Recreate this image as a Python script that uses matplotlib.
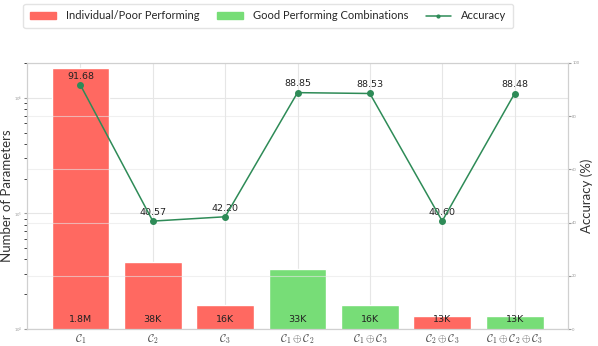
# Parameters vs accuracy chart
import matplotlib
matplotlib.use('Agg')
import matplotlib.pyplot as plt
import seaborn as sns
from matplotlib.patches import Patch
from matplotlib.lines import Line2D

sns.set_style('whitegrid')
plt.rcParams['font.family'] = ['Lato', 'DejaVu Sans']
plt.rcParams['mathtext.fontset'] = 'cm'

# data
categories = [r'$\mathcal{C}_1$', r'$\mathcal{C}_2$', r'$\mathcal{C}_3$',
              r'$\mathcal{C}_1 \oplus \mathcal{C}_2$', r'$\mathcal{C}_1 \oplus \mathcal{C}_3$',
              r'$\mathcal{C}_2 \oplus \mathcal{C}_3$',
              r'$\mathcal{C}_1 \oplus \mathcal{C}_2 \oplus \mathcal{C}_3$']
params = [1.8e6, 38e3, 16e3, 33e3, 16e3, 13e3, 13e3]
param_labels = ['1.8M', '38K', '16K', '33K', '16K', '13K', '13K']
good = [False, False, False, True, True, False, True]
accuracy = [91.68, 40.57, 42.20, 88.85, 88.53, 40.60, 88.48]

red = '#ff6961'
green = '#77dd77'
line_col = '#2e8b57'

fig = plt.figure(figsize=(5.98, 3.46), dpi=100)
ax1 = fig.add_axes([0.045, 0.049, 0.905, 0.769])
x = list(range(len(categories)))
colors = [green if g else red for g in good]
ax1.bar(x, params, width=0.8, color=colors, zorder=2)
ax1.set_yscale('log')
ax1.set_ylim(1e4, 2e6)
ax1.set_xticks(x)
ax1.set_xticklabels(categories, fontsize=7.8, color='#444444')
ax1.tick_params(axis='y', labelsize=3, length=2, pad=1, left=True, colors='#999999')
ax1.tick_params(axis='x', length=0, pad=2)
ax1.set_ylabel('Number of Parameters', fontsize=9.5, color='#333333')
ax1.yaxis.set_label_coords(-0.026, 0.5)
ax1.grid(True, which='major', color='#e6e6e6', linewidth=0.8)
for xi, lab in zip(x, param_labels):
    ax1.text(xi, 1.1e4, lab, ha='center', va='bottom', fontsize=6.8,
             family='DejaVu Sans', color='#222222', zorder=5)
for s in ax1.spines.values():
    s.set_color('#d0d0d0')

ax2 = ax1.twinx()
ax2.plot(x, accuracy, color=line_col, marker='o', markersize=4, linewidth=1.1, zorder=4)
ax2.set_ylim(0, 100)
ax2.set_yticks([0, 20, 40, 60, 80, 100])
ax2.tick_params(axis='y', labelsize=3, length=2, pad=1, right=True, colors='#999999')
ax2.set_ylabel('Accuracy (%)', fontsize=9.5, color='#333333')
ax2.yaxis.set_label_coords(1.022, 0.5)
ax2.grid(True, color='#e6e6e6', linewidth=0.8, alpha=0.6)
for xi, a in zip(x, accuracy):
    ax2.text(xi, a + 1.6, f'{a:.2f}', ha='center', va='bottom', fontsize=6.8,
             family='DejaVu Sans', color='#222222')
for s in ax2.spines.values():
    s.set_color('#d0d0d0')

handles = [Patch(color=red, label='Individual/Poor Performing'),
           Patch(color=green, label='Good Performing Combinations'),
           Line2D([0], [0], color=line_col, marker='o', markersize=2, linewidth=1.1, label='Accuracy')]
fig.legend(handles=handles, loc='upper left', bbox_to_anchor=(0.03, 1.005), ncol=3,
           fontsize=8, frameon=True, edgecolor='#dddddd', columnspacing=1.6,
           handlelength=2.3, handletextpad=0.9, borderpad=0.6)

plt.savefig('out.png', dpi=100)
